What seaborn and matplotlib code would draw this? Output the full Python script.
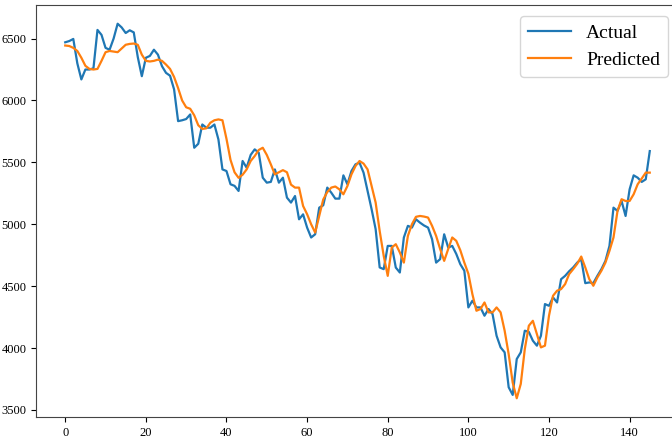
import numpy as np
import pandas as pd
import matplotlib
matplotlib.use("Agg")
import matplotlib.pyplot as plt
import seaborn as sns

actual = [
    6470, 6480, 6497, 6300, 6170, 6250, 6250, 6260, 6570, 6530,
    6425, 6410, 6500, 6620, 6590, 6545, 6567, 6550, 6350, 6196,
    6345, 6360, 6410, 6370, 6277, 6223, 6200, 6090, 5833, 5840,
    5850, 5887, 5618, 5650, 5806, 5780, 5780, 5806, 5685, 5443,
    5430, 5323, 5310, 5269, 5511, 5457, 5560, 5605, 5578, 5376,
    5336, 5342, 5443, 5336, 5376, 5215, 5175, 5228, 5040, 5080,
    4973, 4893, 4919, 5134, 5153, 5296, 5255, 5207, 5207, 5395,
    5323, 5430, 5484, 5497, 5417, 5269, 5121, 4960, 4651, 4637,
    4825, 4825, 4650, 4610, 4893, 4987, 4973, 5040, 5013, 4990,
    4973, 4879, 4690, 4718, 4919, 4812, 4825, 4760, 4677, 4624,
    4328, 4382, 4328, 4328, 4261, 4315, 4274, 4099, 4005, 3965,
    3683, 3621, 3911, 3965, 4140, 4130, 4059, 4019, 4099, 4355,
    4341, 4409, 4368, 4556, 4583, 4620, 4651, 4690, 4718, 4524,
    4530, 4524, 4583, 4637, 4704, 4825, 5134, 5108, 5188, 5067,
    5282, 5395, 5376, 5342, 5363, 5591,
]

predicted = [
    6444, 6440, 6425, 6400, 6345, 6280, 6255, 6250, 6255, 6320,
    6390, 6400, 6395, 6390, 6420, 6450, 6457, 6460, 6450, 6370,
    6320, 6315, 6320, 6330, 6320, 6290, 6255, 6190, 6100, 6000,
    5945, 5933, 5880, 5800, 5770, 5775, 5820, 5840, 5847, 5840,
    5690, 5520, 5420, 5375, 5400, 5443, 5511, 5551, 5600, 5618,
    5560, 5484, 5403, 5420, 5437, 5420, 5320, 5296, 5296, 5148,
    5081, 5000, 4933, 5067, 5200, 5260, 5296, 5305, 5282, 5242,
    5309, 5403, 5470, 5511, 5490, 5443, 5309, 5175, 4946, 4745,
    4583, 4812, 4839, 4772, 4690, 4906, 5000, 5060, 5067, 5062,
    5054, 4987, 4906, 4800, 4704, 4800, 4893, 4866, 4790, 4690,
    4600, 4435, 4301, 4315, 4368, 4288, 4288, 4328, 4288, 4140,
    3950, 3720, 3594, 3710, 3992, 4180, 4220, 4113, 4005, 4019,
    4261, 4422, 4463, 4476, 4516, 4597, 4637, 4680, 4739, 4651,
    4556, 4503, 4570, 4624, 4690, 4785, 4893, 5108, 5202, 5188,
    5188, 5242, 5323, 5369, 5417, 5417,
]

series_names = ["Actual", "Predicted"]
colors = ["#1f77b4", "#ff7f0e"]

plt.rcParams['font.family'] = ['Liberation Serif', 'DejaVu Serif']

idx = np.arange(len(actual))
df = pd.DataFrame({
    "t": np.concatenate([idx, idx]),
    "value": np.concatenate([actual, predicted]),
    "series": [series_names[0]] * len(actual) + [series_names[1]] * len(predicted),
})

fig = plt.figure(figsize=(6.72, 4.4), dpi=100)
ax = fig.add_axes([36 / 672, 23 / 440, (679 - 36) / 672, (417 - 5) / 440])
sns.lineplot(data=df, x="t", y="value", hue="series", palette=colors,
             linewidth=1.6, ax=ax)
ax.set_xlim(-7.25, 152.25)
ax.set_xlabel("")
ax.set_ylabel("")
ax.set_xticks([0, 20, 40, 60, 80, 100, 120, 140])
ax.set_yticks([3500, 4000, 4500, 5000, 5500, 6000, 6500])
ax.tick_params(labelsize=9)
for s in ax.spines.values():
    s.set_edgecolor("#444444")
leg = ax.legend(loc="upper right", bbox_to_anchor=(0.983, 0.973), fontsize=14,
                handlelength=2.2, borderaxespad=0)
for line in leg.get_lines():
    line.set_linewidth(1.6)
fig.savefig("out.png", dpi=100)
